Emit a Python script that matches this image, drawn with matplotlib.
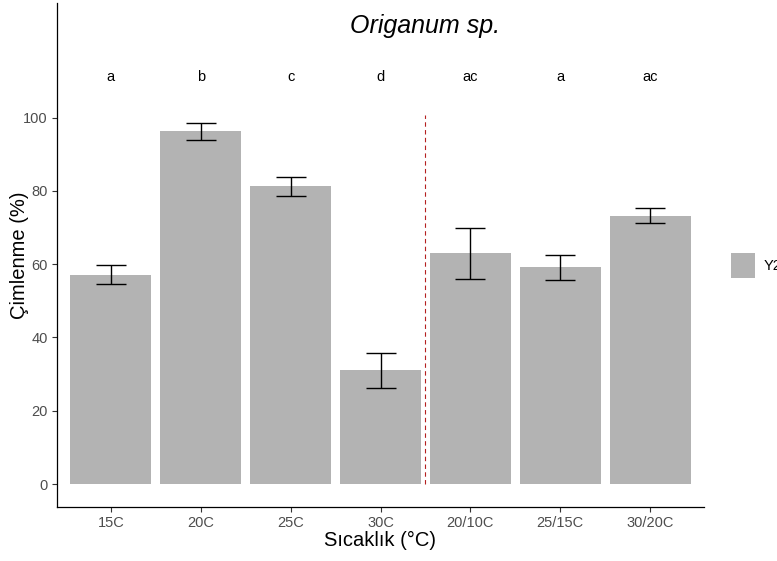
import matplotlib
matplotlib.use("Agg")
import matplotlib.pyplot as plt
import numpy as np

plt.rcParams['font.family'] = ['Liberation Sans', 'DejaVu Sans']

categories = ["15C", "20C", "25C", "30C", "20/10C", "25/15C", "30/20C"]
germination = [57.1, 96.2, 81.2, 31.0, 63.0, 59.1, 73.2]
errors = [2.6, 2.3, 2.5, 4.85, 7.0, 3.5, 2.0]
letters = ["a", "b", "c", "d", "ac", "a", "ac"]
y_ticks = [0, 20, 40, 60, 80, 100]
legend_label = "Y2"

bar_color = "#B3B3B3"
W, H = 777, 561
fig = plt.figure(figsize=(W / 100, H / 100), dpi=100)
ax = fig.add_axes([57 / W, (H - 507) / H, (704 - 57) / W, (507 - 3) / H])

x = np.arange(1, len(categories) + 1)
ax.bar(x, germination, width=0.9, color=bar_color, zorder=2)
ax.errorbar(x, germination, yerr=errors, fmt="none", ecolor="black",
            elinewidth=1.0, capsize=11, capthick=1.0, zorder=3)

# significance letters and title inside the panel
for xi, lab in zip(x, letters):
    ax.text(xi, 111, lab, ha="center", va="center", fontsize=10.5, color="black")
ax.text(4.5, 125, "Origanum sp.", ha="center", va="center", fontsize=18,
        style="italic", color="black")

# separator between constant and alternating temperatures
ax.plot([4.5, 4.5], [0, 100.8], color="#B52020", lw=0.8, ls=(0, (4, 3)), zorder=4)

ax.set_xlim(0.4, 7.6)
ax.set_ylim(-6.25, 131.25)
ax.set_xticks(x)
ax.set_xticklabels(categories)
ax.set_yticks(y_ticks)
ax.tick_params(axis="both", colors="#333333", labelcolor="#4D4D4D",
               labelsize=10.5, length=3.5, width=0.8, pad=3)
for s in ["top", "right"]:
    ax.spines[s].set_visible(False)
for s in ["left", "bottom"]:
    ax.spines[s].set_color("black")
    ax.spines[s].set_linewidth(0.9)

ax.set_xlabel("Sıcaklık (°C)", fontsize=14.5, labelpad=1)
ax.set_ylabel("Çimlenme (%)", fontsize=14.5)
ax.yaxis.label.set_va("center")
ax.yaxis.set_label_coords((19 - 57) / (704 - 57), 0.5)

# legend key
fig.patches.append(matplotlib.patches.Rectangle((731 / W, (H - 278) / H), 24 / W, 25 / H,
                                                transform=fig.transFigure,
                                                facecolor=bar_color, edgecolor="none"))
fig.text(764 / W, (H - 266) / H, legend_label, fontsize=10.5, va="center", ha="left")

fig.savefig("out.png", dpi=100)
